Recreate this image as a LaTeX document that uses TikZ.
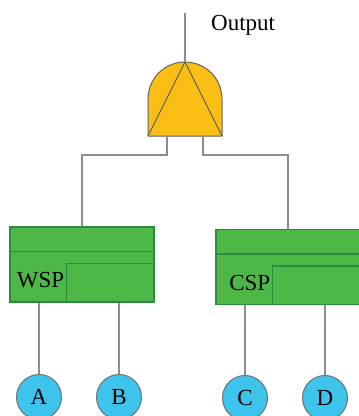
\documentclass[tikz,border=0pt]{standalone}
\usepackage{fontspec}
\setmainfont{Liberation Serif}
\usetikzlibrary{positioning}
\definecolor{gateyellow}{HTML}{FBBE14}
\definecolor{boxgreen}{HTML}{4DB848}
\definecolor{boxline}{HTML}{2E8A3C}
\definecolor{leafblue}{HTML}{3CC4EC}
\definecolor{wiregray}{HTML}{8C8C8C}

\tikzset{
  wire/.style={draw=wiregray, line width=1.3pt},
  spbox/.style={rectangle, draw=boxline, fill=boxgreen, line width=1.2pt,
    minimum width=144pt, minimum height=75pt, inner sep=0pt},
  leaf/.style={circle, draw=wiregray!80!black, fill=leafblue, line width=1pt,
    minimum size=45pt, inner sep=0pt, font=\fontsize{23}{27}\selectfont},
  tag/.style={font=\fontsize{23}{27}\selectfont, inner sep=0pt},
}

\begin{document}
\begin{tikzpicture}[x=1pt,y=1pt]
  \useasboundingbox (0,0) rectangle (359,-416);
  % and gate
  \coordinate (out) at (185,-13);
  \coordinate (apex) at (185,-62);
  \coordinate (gl) at (148,-136);
  \coordinate (gr) at (222,-136);
  \coordinate (legl) at (167,-136);
  \coordinate (legr) at (203,-136);
  \draw[fill=gateyellow, draw=wiregray!70!black, line width=1pt]
    (gl) -- (148,-99) arc (180:0:37) -- (gr) -- cycle;
  \draw[draw=wiregray!70!black, line width=1pt] (gl) -- (apex) -- (gr);
  \draw[wire] (out) -- (apex);
  \node[tag, anchor=base west] (outlabel) at (211,-30) {Output};

  % spare boxes
  \node[spbox] (wsp) at (82,-264.5) {};
  \node[spbox] (csp) at (288,-267) {};
  \foreach \b/\t in {wsp/WSP, csp/CSP} {
    \draw[boxline, line width=1.2pt] ([yshift=-25pt]\b.north west) -- ([yshift=-25pt]\b.north east);
    \draw[boxline, line width=1.2pt] ([xshift=57pt]\b.south west) |- ([yshift=-37pt]\b.north east);
    \node[tag, anchor=east] (\b label) at ([xshift=55pt,yshift=-16pt]\b.west) {\t};
  }

  % basic events
  \node[leaf] (a) at (39,-397) {A};
  \node[leaf] (b) at (119,-397) {B};
  \node[leaf] (c) at (245,-398) {C};
  \node[leaf] (d) at (325,-398) {D};

  % wires
  \draw[wire] (legl) -- ++(0,-19) -| (wsp.north);
  \draw[wire] (legr) -- ++(0,-19) -| (csp.north);
  \draw[wire] (a) -- (a |- wsp.south);
  \draw[wire] (b) -- (b |- wsp.south);
  \draw[wire] (c) -- (c |- csp.south);
  \draw[wire] (d) -- (d |- csp.south);
\end{tikzpicture}
\end{document}
